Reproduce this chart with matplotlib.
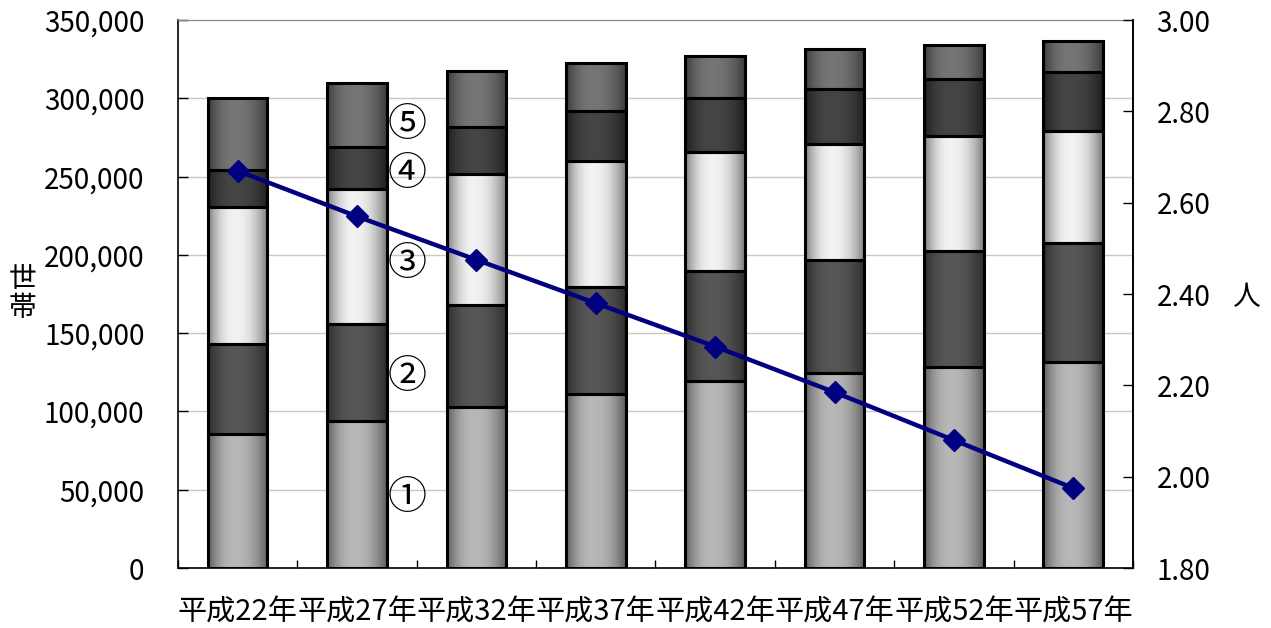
import numpy as np
import matplotlib
matplotlib.use('Agg')
import matplotlib.pyplot as plt

plt.rcParams['font.family'] = ['Noto Sans CJK JP', 'DejaVu Sans']

# Data
years = ['平成22年', '平成27年', '平成32年', '平成37年', '平成42年', '平成47年', '平成52年', '平成57年']
seg1 = [85600, 93900, 102800, 111100, 119400, 124500, 128400, 131600]
seg2 = [57500, 61900, 65200, 68400, 70300, 72200, 74100, 76000]
seg3 = [87500, 86300, 83600, 80500, 76000, 74100, 73400, 71500]
seg4 = [23600, 26800, 30100, 31900, 34500, 35100, 36400, 37700]
seg5 = [46000, 40900, 35700, 30600, 26800, 25600, 21700, 19800]
persons = [2.67, 2.57, 2.475, 2.38, 2.285, 2.185, 2.08, 1.975]
seg_labels = ['①', '②', '③', '④', '⑤']
label_y = [45000, 122000, 194000, 252000, 283000]

# (center, edge) gray levels for the shaded bar segments
shades = [(0.72, 0.36), (0.34, 0.17), (0.95, 0.48), (0.27, 0.12), (0.46, 0.23)]

fig = plt.figure(figsize=(12.71, 6.28), dpi=100)
ax = fig.add_axes([0.140, 0.0955, 0.7514, 0.8725])

x = np.arange(len(years))
width = 0.5
t = np.linspace(0, 1, 120)
d = np.where(t < 0.45, (t - 0.45) / 0.45, (t - 0.45) / 0.55)
prof = 1 - np.abs(d) ** 2.2

bottoms = np.zeros(len(years))
for vals, (c, e) in zip([seg1, seg2, seg3, seg4, seg5], shades):
    vals = np.array(vals, dtype=float)
    g = e + (c - e) * prof
    img = np.dstack([g, g, g]).reshape(1, -1, 3)
    for i in range(len(years)):
        ax.imshow(img, extent=[x[i] - width / 2, x[i] + width / 2, bottoms[i], bottoms[i] + vals[i]],
                  aspect='auto', interpolation='bilinear', zorder=2)
    ax.bar(x, vals, width, bottom=bottoms, fill=False, edgecolor='black', linewidth=2.2, zorder=3)
    bottoms += vals

for lab, ly in zip(seg_labels, label_y):
    ax.text(1.42, ly, lab, fontsize=28, ha='center', va='center', zorder=4)

ax.set_xlim(-0.5, len(years) - 0.5)
ax.set_ylim(0, 350000)
ax.set_yticks(np.arange(0, 350001, 50000))
ax.set_yticklabels([f'{v:,}' for v in range(0, 350001, 50000)], fontsize=20)
ax.grid(axis='y', color='#c8c8c8', linewidth=1)
ax.set_axisbelow(True)
ax.set_xticks(np.arange(-0.5, len(years), 1))
ax.set_xticklabels([])
ax.set_xticks(x, years, minor=True, fontsize=21)
ax.tick_params(axis='x', which='major', direction='in', length=6, width=1)
ax.tick_params(axis='x', which='minor', length=0, pad=21)
ax.tick_params(axis='y', direction='in', length=7, width=1, pad=24)
for s in ['left', 'right', 'bottom']:
    ax.spines[s].set_color('black')
    ax.spines[s].set_linewidth(1.2)
ax.spines['top'].set_color('#888888')

ax2 = ax.twinx()
ax2.plot(x, persons, color='#000080', linewidth=3.2, marker='D', markersize=11, zorder=5)
ax2.set_ylim(1.8, 3.0)
ax2.set_yticks(np.arange(1.8, 3.01, 0.2))
ax2.set_yticklabels([f'{v:.2f}' for v in np.arange(1.8, 3.01, 0.2)], fontsize=20)
ax2.tick_params(axis='y', direction='in', length=7, width=1, pad=17)
for s in ['left', 'top', 'bottom']:
    ax2.spines[s].set_visible(False)
ax2.spines['right'].set_linewidth(1.2)

fig.text(0.018, 0.533, '世\n帯', fontsize=20, ha='center', va='center', linespacing=0.95)
fig.text(0.980, 0.527, '人', fontsize=20, ha='center', va='center')

fig.savefig('out.png', dpi=100)
